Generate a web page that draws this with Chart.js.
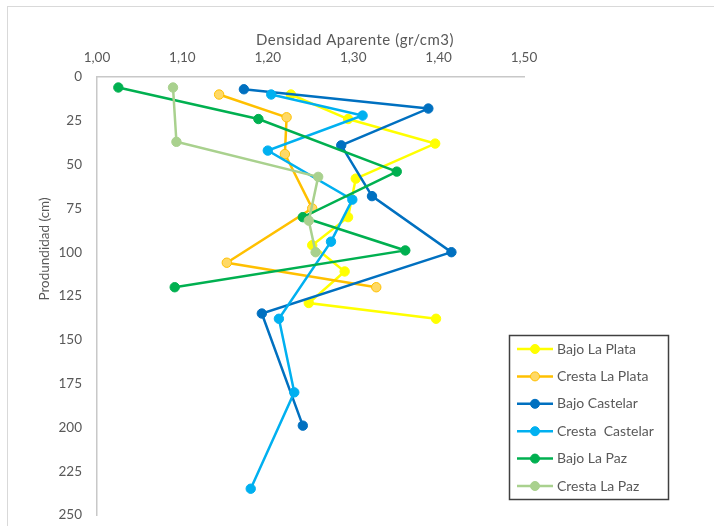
<!DOCTYPE html>
<html>
<head>
<meta charset="utf-8">
<script src="https://cdn.jsdelivr.net/npm/chart.js@4.4.1/dist/chart.umd.min.js"></script>
<style>
  html, body { margin: 0; padding: 0; background: #ffffff; }
  #wrap { width: 714px; height: 526px; position: relative; }
</style>
</head>
<body>
<div id="wrap"><canvas id="c" width="714" height="526"></canvas></div>
<script>
// Densidad aparente (gr/cm3) y profundidad (cm) por sitio
const seriesNames = ['Bajo La Plata', 'Cresta La Plata', 'Bajo Castelar', 'Cresta  Castelar', 'Bajo La Paz', 'Cresta La Paz'];

const bajoLaPlataDens = [1.227, 1.294, 1.396, 1.303, 1.294, 1.252, 1.290, 1.248, 1.397];
const bajoLaPlataProf = [10, 24, 38, 58, 80, 96, 111, 129, 138];

const crestaLaPlataDens = [1.143, 1.222, 1.220, 1.252, 1.152, 1.327];
const crestaLaPlataProf = [10, 23, 44, 75, 106, 120];

const bajoCastelarDens = [1.172, 1.388, 1.286, 1.322, 1.415, 1.193, 1.241];
const bajoCastelarProf = [7, 18, 39, 68, 100, 135, 199];

const crestaCastelarDens = [1.204, 1.311, 1.200, 1.299, 1.274, 1.213, 1.231, 1.180];
const crestaCastelarProf = [10, 22, 42, 70, 94, 138, 180, 235];

const bajoLaPazDens = [1.025, 1.189, 1.351, 1.241, 1.361, 1.091];
const bajoLaPazProf = [6, 24, 54, 80, 99, 120];

const crestaLaPazDens = [1.089, 1.093, 1.259, 1.248, 1.256];
const crestaLaPazProf = [6, 37, 57, 82, 100];

const densTicks = [1.00, 1.10, 1.20, 1.30, 1.40, 1.50];
const profTicks = [0, 25, 50, 75, 100, 125, 150, 175, 200, 225, 250];

const xTitle = 'Densidad Aparente (gr/cm3)';
const yTitle = 'Produndidad (cm)';

const lineColors  = ['#FFFF00', '#FFC000', '#0070C0', '#00B0F0', '#00B050', '#A9D18E'];
const pointFills  = ['#FFFF00', '#FFD966', '#0070C0', '#00B0F0', '#00B050', '#A9D18E'];

const densSets = [bajoLaPlataDens, crestaLaPlataDens, bajoCastelarDens, crestaCastelarDens, bajoLaPazDens, crestaLaPazDens];
const profSets = [bajoLaPlataProf, crestaLaPlataProf, bajoCastelarProf, crestaCastelarProf, bajoLaPazProf, crestaLaPazProf];

const FONT = 'Lato, "Open Sans", sans-serif';
const TEXT = '#595959';

const datasets = seriesNames.map((name, i) => ({
  label: name,
  data: densSets[i].map((d, k) => ({ x: d, y: profSets[i][k] })),
  showLine: true,
  tension: 0,
  borderColor: lineColors[i],
  borderWidth: 2.5,
  pointRadius: 4.7,
  pointHoverRadius: 4.7,
  pointBackgroundColor: pointFills[i],
  pointBorderColor: lineColors[i],
  pointBorderWidth: 1,
  order: seriesNames.length - i
}));

// Frame, axis titles and boxed legend
const decorations = {
  id: 'decorations',
  beforeDraw(chart) {
    const ctx = chart.ctx;
    ctx.save();
    ctx.strokeStyle = '#D9D9D9';
    ctx.lineWidth = 1;
    ctx.strokeRect(7.5, 6.5, 720, 540);
    ctx.restore();
  },
  afterDraw(chart) {
    const ctx = chart.ctx;
    ctx.save();
    ctx.fillStyle = TEXT;
    ctx.font = '15px ' + FONT;
    ctx.letterSpacing = '0.5px';
    ctx.textAlign = 'center';
    ctx.textBaseline = 'middle';
    ctx.fillText(xTitle, 355, 40);
    ctx.letterSpacing = '0px';

    ctx.font = '13.5px ' + FONT;
    ctx.translate(45, 249);
    ctx.rotate(-Math.PI / 2);
    ctx.fillText(yTitle, 0, 0);
    ctx.restore();

    // legend
    const bx = 509.5, by = 335.5, bw = 159, bh = 164;
    ctx.save();
    ctx.fillStyle = '#ffffff';
    ctx.fillRect(bx, by, bw, bh);
    ctx.strokeStyle = '#404040';
    ctx.lineWidth = 1.5;
    ctx.strokeRect(bx, by, bw, bh);
    ctx.font = '14px ' + FONT;
    ctx.textAlign = 'left';
    ctx.textBaseline = 'middle';
    chart.data.datasets.forEach((ds, i) => {
      const y = 349 + i * 27.4;
      ctx.strokeStyle = ds.borderColor;
      ctx.lineWidth = 2.5;
      ctx.beginPath();
      ctx.moveTo(517, y);
      ctx.lineTo(553, y);
      ctx.stroke();
      ctx.beginPath();
      ctx.arc(535, y, 4.5, 0, Math.PI * 2);
      ctx.fillStyle = ds.pointBackgroundColor;
      ctx.fill();
      ctx.lineWidth = 1;
      ctx.strokeStyle = ds.pointBorderColor;
      ctx.stroke();
      ctx.fillStyle = TEXT;
      ctx.fillText(ds.label, 557, y);
    });
    ctx.restore();
  }
};

// fixed axis box sizes, without extra label overflow padding
function fixBox(size, horizontal) {
  return scale => {
    if (horizontal) scale.height = size; else scale.width = size;
    scale.paddingTop = 0; scale.paddingBottom = 0;
    scale.paddingLeft = 0; scale.paddingRight = 0;
  };
}

new Chart(document.getElementById('c'), {
  type: 'scatter',
  data: { datasets },
  options: {
    responsive: false,
    animation: false,
    devicePixelRatio: 1,
    layout: { autoPadding: false, padding: { left: 0, top: 0, right: 190, bottom: 11 } },
    plugins: { legend: { display: false }, tooltip: { enabled: false } },
    scales: {
      x: {
        type: 'linear',
        position: 'top',
        min: densTicks[0],
        max: densTicks[densTicks.length - 1],
        afterBuildTicks(scale) { scale.ticks = densTicks.map(v => ({ value: v })); },
        afterFit: fixBox(77, true),
        grid: { display: false, drawTicks: false },
        border: { display: true, color: '#C8C8C8', width: 1.5 },
        ticks: {
          padding: 11,
          color: TEXT,
          font: { family: FONT, size: 13.5 },
          callback: v => v.toFixed(2).replace('.', ',')
        }
      },
      y: {
        type: 'linear',
        reverse: true,
        min: profTicks[0],
        max: profTicks[profTicks.length - 1],
        afterBuildTicks(scale) { scale.ticks = profTicks.map(v => ({ value: v })); },
        afterFit: fixBox(97, false),
        grid: { display: false, drawTicks: false },
        border: { display: true, color: '#C8C8C8', width: 1.5 },
        ticks: {
          padding: 15,
          color: TEXT,
          font: { family: FONT, size: 13.5 },
          callback: v => String(v)
        }
      }
    }
  },
  plugins: [decorations]
});
</script>
</body>
</html>
